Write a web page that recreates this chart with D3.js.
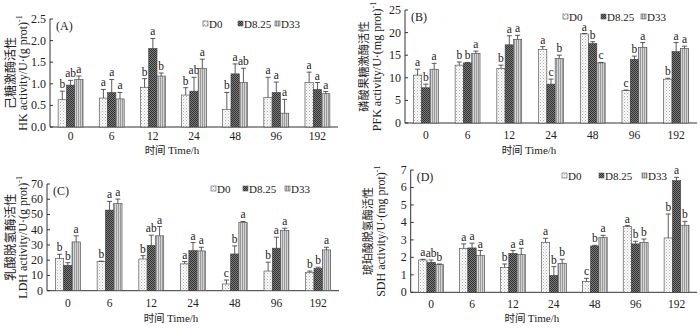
<!DOCTYPE html>
<html>
<head>
<meta charset="utf-8">
<script src="https://cdn.jsdelivr.net/npm/d3@7"></script>
<style>
  body { margin: 0; background: #fff; }
  text { font-family: "Liberation Serif", "Times New Roman", serif; fill: #222; }
  .cn { font-family: "Noto Sans CJK SC", sans-serif; }
</style>
</head>
<body>
<script>
    var w = 700;
    var h = 330;

    // categories
    var times = ["0", "6", "12", "24", "48", "96", "192"];
    var groups = ["D0", "D8.25", "D33"];

    // (A) HK
    var hkMean = [[0.63, 0.67, 0.92, 0.74, 0.41, 0.68, 1.03],
                  [0.97, 0.80, 1.82, 0.83, 1.23, 0.80, 0.87],
                  [1.10, 0.65, 1.18, 1.36, 1.03, 0.32, 0.77]];
    var hkErr  = [[0.20, 0.20, 0.20, 0.17, 0.39, 0.47, 0.24],
                  [0.11, 0.30, 0.23, 0.32, 0.23, 0.24, 0.16],
                  [0.08, 0.15, 0.07, 0.21, 0.33, 0.32, 0.05]];
    var hkSig  = [["b", "a", "b", "b", "b", "a", "a"],
                  ["ab", "a", "a", "ab", "a", "a", "a"],
                  ["a", "a", "b", "a", "ab", "a", "a"]];
    var hkTicks = ["0.0", "0.5", "1.0", "1.5", "2.0", "2.5"];

    // (B) PFK
    var pfkMean = [[10.6, 12.8, 12.1, 16.3, 19.7, 7.2, 9.7],
                   [7.8, 13.3, 17.3, 8.6, 17.6, 14.1, 15.8],
                   [11.9, 15.4, 18.5, 14.3, 13.3, 16.7, 16.5]];
    var pfkErr  = [[1.3, 0.7, 0.7, 0.6, 0.1, 0.1, 0.2],
                   [0.8, 0.1, 2.0, 1.1, 0.4, 0.7, 2.0],
                   [1.3, 0.5, 0.9, 0.7, 0.1, 1.1, 0.5]];
    var pfkSig  = [["a", "b", "b", "a", "a", "c", "b"],
                   ["b", "b", "a", "c", "b", "b", "a"],
                   ["a", "a", "a", "b", "c", "a", "a"]];
    var pfkTicks = ["0", "5", "10", "15", "20", "25"];

    // (C) LDH
    var ldhMean = [[21.1, 19.1, 20.8, 17.6, 4.4, 12.9, 12.1],
                   [16.7, 52.9, 29.8, 26.3, 24.1, 27.9, 14.7],
                   [32.0, 57.1, 36.0, 26.1, 44.8, 39.5, 26.8]];
    var ldhErr  = [[2.8, 0.3, 2.2, 1.5, 2.6, 5.8, 0.8],
                   [1.7, 5.7, 6.6, 5.3, 5.3, 7.2, 0.7],
                   [4.0, 3.0, 6.1, 2.4, 0.6, 1.5, 1.7]];
    var ldhSig  = [["b", "b", "b", "a", "c", "b", "b"],
                   ["b", "a", "ab", "a", "b", "a", "b"],
                   ["a", "a", "a", "a", "a", "a", "a"]];
    var ldhTicks = ["0", "10", "20", "30", "40", "50", "60", "70"];

    // (D) SDH
    var sdhMean = [[1.85, 2.50, 1.43, 2.84, 0.61, 3.76, 3.11],
                   [1.72, 2.54, 2.23, 0.97, 2.65, 2.77, 6.39],
                   [1.58, 2.10, 2.16, 1.66, 3.13, 2.86, 3.84]];
    var sdhErr  = [[0.04, 0.27, 0.19, 0.25, 0.19, 0.06, 1.37],
                   [0.13, 0.27, 0.16, 0.50, 0.04, 0.15, 0.19],
                   [0.04, 0.29, 0.36, 0.23, 0.13, 0.19, 0.22]];
    var sdhSig  = [["a", "a", "b", "a", "c", "a", "b"],
                   ["ab", "a", "a", "b", "b", "b", "a"],
                   ["b", "a", "a", "b", "a", "b", "b"]];
    var sdhTicks = ["0", "1", "2", "3", "4", "5", "6", "7"];

    var svg = d3.select("body")
                .append("svg")
                .attr("width", w)
                .attr("height", h);

    // fill patterns for the three groups
    var defs = svg.append("defs");
    var p0 = defs.append("pattern").attr("id", "pat0").attr("patternUnits", "userSpaceOnUse")
                 .attr("width", 3).attr("height", 3);
    p0.append("rect").attr("width", 3).attr("height", 3).attr("fill", "#fbfbfb");
    p0.append("rect").attr("x", 0).attr("y", 0).attr("width", 1).attr("height", 1).attr("fill", "#b0b0b0");
    p0.append("rect").attr("x", 1.5).attr("y", 1.5).attr("width", 1).attr("height", 1).attr("fill", "#c8c8c8");

    var p1 = defs.append("pattern").attr("id", "pat1").attr("patternUnits", "userSpaceOnUse")
                 .attr("width", 2).attr("height", 2);
    p1.append("rect").attr("width", 2).attr("height", 2).attr("fill", "#7a7a7a");
    p1.append("rect").attr("width", 1).attr("height", 1).attr("fill", "#333");
    p1.append("rect").attr("x", 1).attr("y", 1).attr("width", 1).attr("height", 1).attr("fill", "#333");

    var p2 = defs.append("pattern").attr("id", "pat2").attr("patternUnits", "userSpaceOnUse")
                 .attr("width", 2).attr("height", 2);
    p2.append("rect").attr("width", 2).attr("height", 2).attr("fill", "#d4d4d4");
    p2.append("rect").attr("width", 1).attr("height", 2).attr("fill", "#9a9a9a");

    var fills = ["url(#pat0)", "url(#pat1)", "url(#pat2)"];

    function panel(cfg) {
        var x = d3.scaleBand().domain(times).range([cfg.x0, cfg.x1]);
        var y = d3.scaleLinear().domain([0, cfg.max]).range([cfg.y0, cfg.yTop]);
        var g = svg.append("g");
        var bw = 8.3;

        // axes
        g.append("line").attr("x1", cfg.x0).attr("x2", cfg.x0)
         .attr("y1", y(0)).attr("y2", y(cfg.max)).attr("stroke", "#333").attr("stroke-width", 1);
        g.append("line").attr("x1", cfg.x0).attr("x2", cfg.x1)
         .attr("y1", y(0)).attr("y2", y(0)).attr("stroke", "#333").attr("stroke-width", 1);

        cfg.ticks.forEach(function(t) {
            var v = +t;
            g.append("line").attr("x1", cfg.x0).attr("x2", cfg.x0 + 3)
             .attr("y1", y(v)).attr("y2", y(v)).attr("stroke", "#333");
            g.append("text").attr("x", cfg.x0 - 4).attr("y", y(v) + 4)
             .attr("text-anchor", "end").style("font-size", "12px").text(t);
        });

        times.forEach(function(t) {
            g.append("text").attr("x", x(t) + x.bandwidth() / 2).attr("y", cfg.tky)
             .attr("text-anchor", "middle").style("font-size", "11.5px").text(t);
        });

        // bars, error bars, letters
        for (var s = 0; s < 3; s++) {
            for (var i = 0; i < times.length; i++) {
                var m = cfg.mean[s][i], e = cfg.err[s][i];
                var bx = x(times[i]) + x.bandwidth() / 2 - 1.5 * bw + s * bw;
                var cx = bx + bw / 2;
                g.append("rect").attr("x", bx).attr("y", y(m))
                 .attr("width", bw).attr("height", y(0) - y(m))
                 .attr("fill", fills[s]).attr("stroke", "#444").attr("stroke-width", 0.6);
                g.append("line").attr("x1", cx).attr("x2", cx)
                 .attr("y1", y(m)).attr("y2", y(m + e)).attr("stroke", "#333").attr("stroke-width", 0.8);
                g.append("line").attr("x1", cx - 2.5).attr("x2", cx + 2.5)
                 .attr("y1", y(m + e)).attr("y2", y(m + e)).attr("stroke", "#333").attr("stroke-width", 0.8);
                g.append("text").attr("x", cx).attr("y", y(m + e) - 3)
                 .attr("text-anchor", "middle").style("font-size", "11.5px").text(cfg.sig[s][i]);
            }
        }

        // panel label
        g.append("text").attr("x", cfg.x0 + 6).attr("y", y(cfg.max) + 11)
         .style("font-size", "12px").text(cfg.label);

        // y titles
        var yc = (y(0) + y(cfg.max)) / 2;
        g.append("text").attr("class", "cn")
         .attr("transform", "translate(" + cfg.tx + "," + yc + ") rotate(-90)")
         .attr("text-anchor", "middle").attr("dy", "0.35em").style("font-size", cfg.cnSize + "px")
         .text(cfg.cn);
        var et = g.append("text")
         .attr("transform", "translate(" + (cfg.tx + 12.5) + "," + yc + ") rotate(-90)")
         .attr("text-anchor", "middle").attr("dy", "0.35em").style("font-size", "12px");
        et.append("tspan").text(cfg.en);
        et.append("tspan").attr("dy", "-5").style("font-size", "8px").text("-1");

        // x title
        var xt = g.append("text").attr("x", x("24") + x.bandwidth() / 2 - 22).attr("y", cfg.xty)
         .attr("text-anchor", "middle").style("font-size", "11px");
        xt.append("tspan").attr("class", "cn").style("font-size", "10.5px").text("时间 ");
        xt.append("tspan").text("Time/h");

        // legend
        var lg = g.append("g");
        groups.forEach(function(d, k) {
            var lx = cfg.lx + cfg.lstep[k];
            lg.append("rect").attr("x", lx).attr("y", cfg.ly - 7).attr("width", 5).attr("height", 5)
              .attr("fill", fills[k]).attr("stroke", "#555").attr("stroke-width", 0.6);
            lg.append("text").attr("x", lx + 6).attr("y", cfg.ly).style("font-size", "11px").text(d);
        });
    }

    panel({ x0: 50, x1: 338, y0: 127, yTop: 19, max: 2.5, ticks: hkTicks,
            mean: hkMean, err: hkErr, sig: hkSig, label: "(A)",
            tx: 10.5, cn: "己糖激酶活性", cnSize: 12, en: "HK activity/U·(g prot)",
            tky: 139.5, xty: 154, lx: 203, ly: 28, lstep: [0, 35, 72] });

    panel({ x0: 405, x1: 697, y0: 123, yTop: 10, max: 25, ticks: pfkTicks,
            mean: pfkMean, err: pfkErr, sig: pfkSig, label: "(B)",
            tx: 364, cn: "磷酸果糖激酶活性", cnSize: 11.3, en: "PFK activity/U·(mg prot)",
            tky: 139, xty: 154, lx: 563, ly: 21, lstep: [0, 38, 78] });

    panel({ x0: 47, x1: 339, y0: 290.7, yTop: 184, max: 70, ticks: ldhTicks,
            mean: ldhMean, err: ldhErr, sig: ldhSig, label: "(C)",
            tx: 10.5, cn: "乳酸脱氢酶活性", cnSize: 12.5, en: "LDH activity/U·(g prot)",
            tky: 307, xty: 322, lx: 211, ly: 193, lstep: [0, 32, 74] });

    panel({ x0: 410.7, x1: 697, y0: 292.3, yTop: 170, max: 7, ticks: sdhTicks,
            mean: sdhMean, err: sdhErr, sig: sdhSig, label: "(D)",
            tx: 368, cn: "琥珀酸脱氢酶活性", cnSize: 11, en: "SDH activity/U·(mg prot)",
            tky: 307.5, xty: 322, lx: 562, ly: 180, lstep: [0, 37, 80] });
</script>
</body>
</html>
